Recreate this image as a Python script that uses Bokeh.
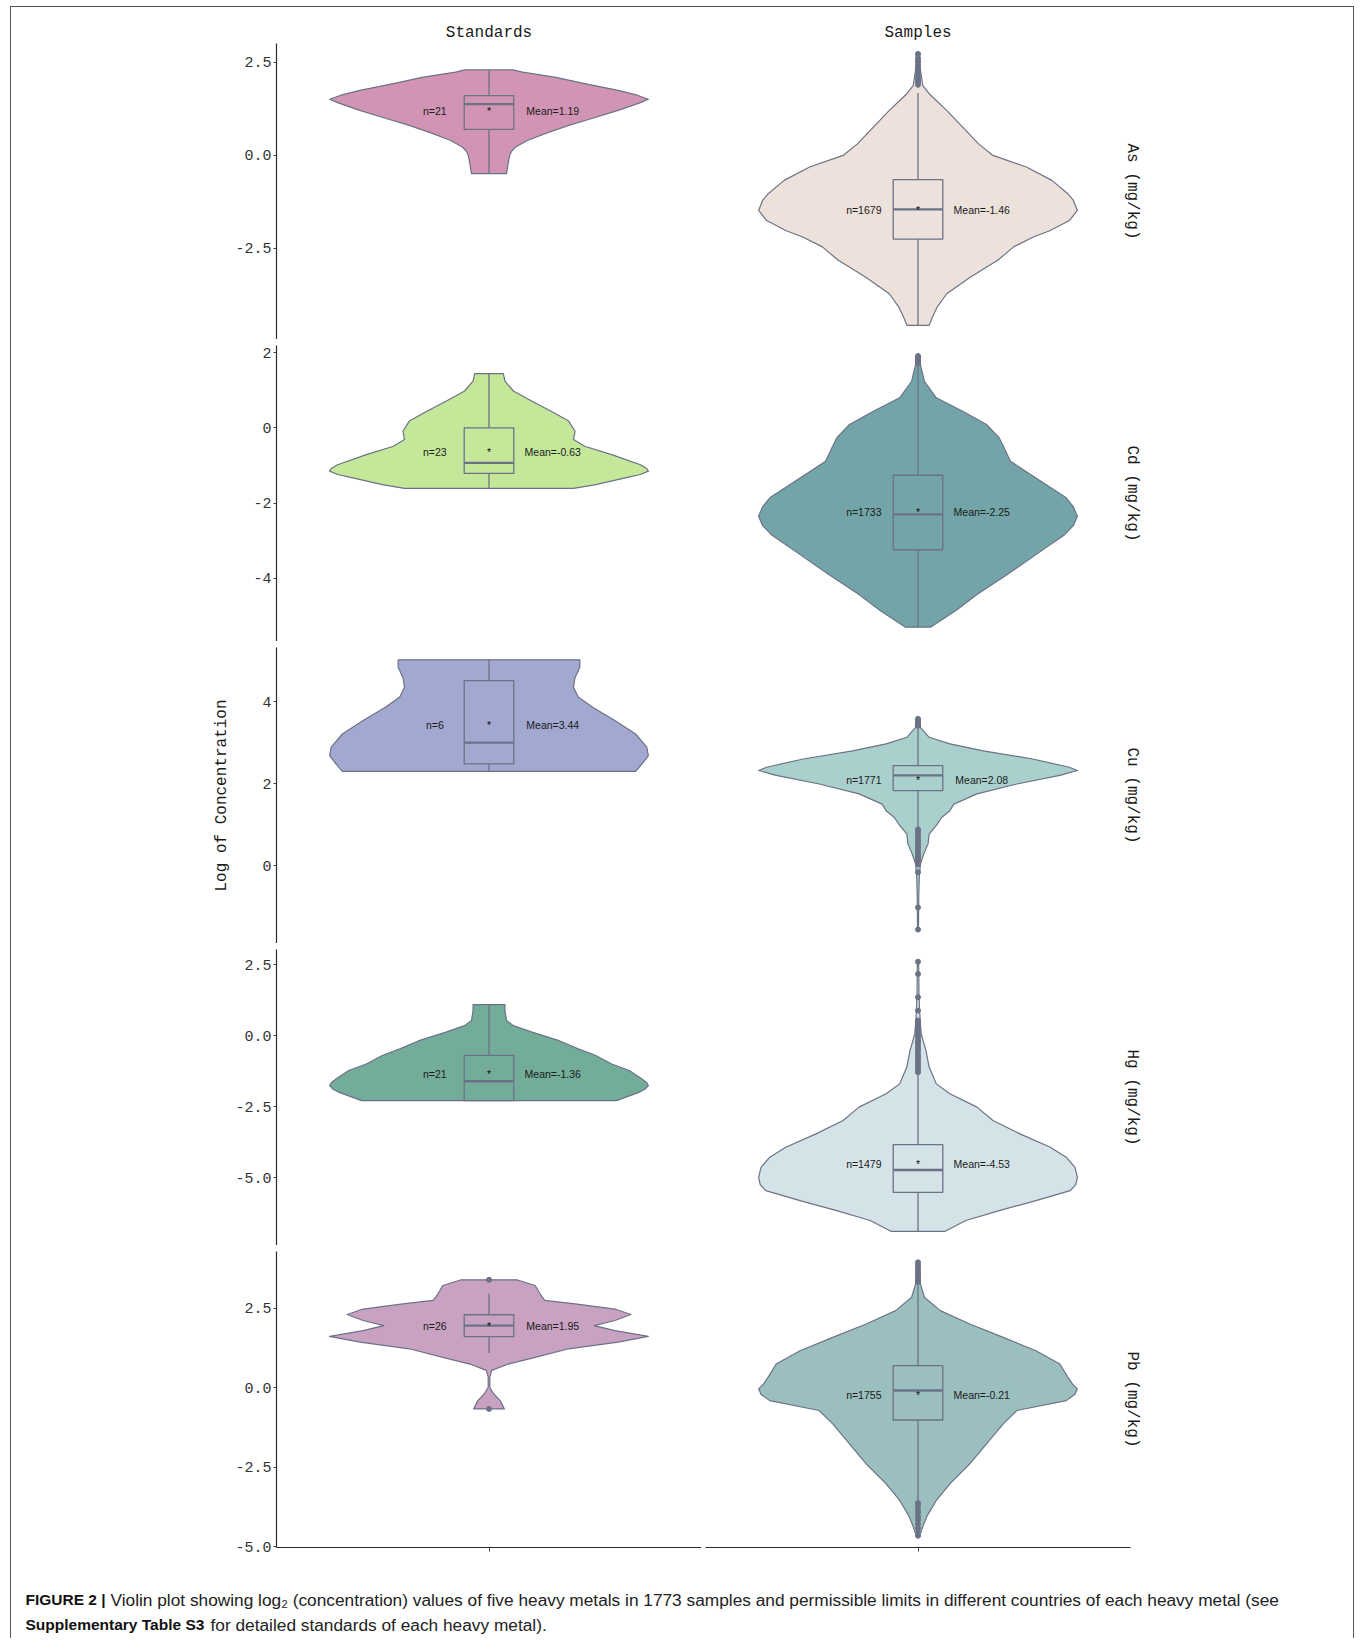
from bokeh.plotting import figure
from bokeh.layouts import row, column
from bokeh.models import Range1d, FixedTicker, LinearAxis
from bokeh.core.properties import value
from bokeh.embed import file_html
from bokeh.resources import INLINE

# ---------------- data ----------------
metals = ["As", "Cd", "Cu", "Hg", "Pb"]
groups = ["Standards", "Samples"]
strip_labels = ["As (mg/kg)", "Cd (mg/kg)", "Cu (mg/kg)", "Hg (mg/kg)", "Pb (mg/kg)"]

# violin outlines (log2 value, relative half-width 0..1)
std_as_y = [2.30, 2.24, 2.10, 1.93, 1.75, 1.62, 1.51, 1.42, 1.30, 1.21, 1.00, 0.81, 0.60, 0.40, 0.22, 0.10, 0.00, -0.22, -0.49]
std_as_w = [0.153, 0.21, 0.42, 0.60, 0.81, 0.93, 1.00, 0.95, 0.87, 0.81, 0.65, 0.50, 0.36, 0.24, 0.165, 0.14, 0.13, 0.12, 0.11]
smp_as_y = [2.73, 2.30, 1.88, 1.66, 1.21, 0.76, 0.31, 0.00, -0.31, -0.67, -1.03, -1.21, -1.48, -1.75, -2.02, -2.20, -2.46, -2.82, -3.27, -3.72, -4.08, -4.35, -4.57]
smp_as_w = [0.01, 0.015, 0.03, 0.07, 0.18, 0.28, 0.38, 0.47, 0.68, 0.84, 0.94, 0.975, 1.00, 0.95, 0.83, 0.72, 0.60, 0.50, 0.33, 0.18, 0.12, 0.09, 0.07]

std_cd_y = [1.44, 1.24, 0.98, 0.71, 0.44, 0.18, -0.09, -0.31, -0.49, -0.71, -0.98, -1.08, -1.15, -1.24, -1.33, -1.51, -1.61]
std_cd_w = [0.09, 0.10, 0.153, 0.27, 0.39, 0.50, 0.54, 0.53, 0.60, 0.77, 0.95, 0.99, 1.00, 0.95, 0.855, 0.67, 0.53]
smp_cd_y = [1.91, 1.68, 1.24, 0.80, 0.44, 0.09, -0.27, -0.53, -0.89, -1.33, -1.86, -2.10, -2.35, -2.60, -2.84, -3.37, -3.90, -4.43, -4.85, -5.10, -5.30]
smp_cd_w = [0.01, 0.015, 0.04, 0.115, 0.28, 0.43, 0.51, 0.54, 0.58, 0.74, 0.93, 0.975, 1.00, 0.975, 0.92, 0.74, 0.56, 0.37, 0.24, 0.15, 0.078]

std_cu_y = [5.02, 4.84, 4.59, 4.35, 4.11, 3.86, 3.54, 3.21, 2.89, 2.68, 2.48, 2.30]
std_cu_w = [0.57, 0.57, 0.54, 0.53, 0.56, 0.65, 0.79, 0.92, 0.99, 1.00, 0.96, 0.92]
smp_cu_y = [3.58, 3.37, 3.13, 2.97, 2.80, 2.60, 2.40, 2.32, 2.20, 1.99, 1.75, 1.50, 1.34, 1.18, 0.98, 0.77, 0.53, 0.28, 0.04, -0.28, -0.70, -1.10, -1.56]
smp_cu_w = [0.01, 0.015, 0.07, 0.20, 0.41, 0.72, 0.95, 1.00, 0.89, 0.62, 0.37, 0.225, 0.20, 0.15, 0.115, 0.07, 0.063, 0.036, 0.015, 0.008, 0.005, 0.004, 0.003]

std_hg_y = [1.09, 0.88, 0.53, 0.35, 0.12, -0.18, -0.47, -0.70, -1.00, -1.23, -1.53, -1.66, -1.76, -1.88, -2.00, -2.29]
std_hg_w = [0.10, 0.10, 0.11, 0.153, 0.27, 0.44, 0.56, 0.67, 0.77, 0.88, 0.96, 0.99, 1.00, 0.98, 0.94, 0.80]
smp_hg_y = [2.60, 1.50, 0.88, 0.42, 0.06, -0.53, -1.11, -1.70, -2.05, -2.52, -2.99, -3.46, -3.93, -4.28, -4.64, -4.99, -5.25, -5.46, -5.81, -6.16, -6.51, -6.89]
smp_hg_w = [0.004, 0.006, 0.01, 0.015, 0.02, 0.05, 0.07, 0.115, 0.20, 0.37, 0.47, 0.64, 0.83, 0.93, 0.985, 1.00, 0.99, 0.955, 0.74, 0.51, 0.30, 0.17]

std_pb_y = [3.40, 3.22, 2.96, 2.75, 2.64, 2.48, 2.31, 2.12, 1.96, 1.80, 1.62, 1.44, 1.23, 0.96, 0.75, 0.55, 0.34, 0.02, -0.19, -0.40, -0.66]
std_pb_w = [0.174, 0.29, 0.32, 0.35, 0.54, 0.79, 0.89, 0.79, 0.66, 0.79, 1.00, 0.81, 0.50, 0.29, 0.12, 0.017, 0.005, 0.005, 0.03, 0.07, 0.096]
smp_pb_y = [3.95, 3.27, 2.85, 2.43, 2.01, 1.59, 1.17, 0.75, 0.34, 0.12, -0.03, -0.20, -0.40, -0.71, -1.13, -1.76, -2.39, -3.02, -3.54, -4.00, -4.30, -4.65]
smp_pb_w = [0.008, 0.015, 0.04, 0.14, 0.325, 0.535, 0.74, 0.89, 0.94, 0.97, 1.00, 0.985, 0.93, 0.62, 0.535, 0.43, 0.325, 0.20, 0.115, 0.06, 0.035, 0.01]

# box statistics per metal (As, Cd, Cu, Hg, Pb)
std_n = [21, 23, 6, 21, 26]
std_mean = [1.19, -0.63, 3.44, -1.36, 1.95]
std_q1 = [0.70, -1.21, 2.48, -2.29, 1.61]
std_med = [1.38, -0.93, 3.00, -1.61, 1.96]
std_q3 = [1.61, 0.00, 4.51, -0.70, 2.30]
std_lo = [-0.49, -1.61, 2.30, -2.29, 1.10]
std_hi = [2.30, 1.44, 5.02, 1.09, 2.96]

smp_n = [1679, 1733, 1771, 1479, 1755]
smp_mean = [-1.46, -2.25, 2.08, -4.53, -0.21]
smp_q1 = [-2.25, -3.24, 1.83, -5.52, -1.01]
smp_med = [-1.45, -2.30, 2.20, -4.73, -0.08]
smp_q3 = [-0.65, -1.26, 2.44, -3.84, 0.70]
smp_lo = [-4.57, -5.30, 0.93, -6.89, -3.55]
smp_hi = [1.68, 1.68, 3.38, -1.30, 3.25]

# outliers
std_as_out = []
std_cd_out = []
std_cu_out = []
std_hg_out = []
std_pb_out = [3.40, -0.66]
smp_as_out = [1.90, 1.96, 2.02, 2.09, 2.15, 2.23, 2.31, 2.41, 2.52, 2.61, 2.73]
smp_cd_out = [1.72, 1.76, 1.81, 1.84, 1.88, 1.91]
smp_cu_out = [3.41, 3.45, 3.50, 3.53, 3.58, 0.88, 0.82, 0.74, 0.67, 0.60, 0.54, 0.47, 0.42, 0.35, 0.29, 0.23, 0.18, 0.12, 0.07, 0.03, -0.16, -1.02, -1.56]
smp_hg_out = [2.60, 2.17, 1.35, 0.88, 0.53, 0.44, 0.37, 0.31, 0.22, 0.15, 0.05, -0.04, -0.14, -0.22, -0.30, -0.41, -0.49, -0.57, -0.68, -0.76, -0.85, -0.95, -1.03, -1.11, -1.21, -1.29]
smp_pb_out = [3.33, 3.41, 3.50, 3.58, 3.68, 3.77, 3.86, 3.95, -3.62, -3.71, -3.83, -3.92, -4.04, -4.15, -4.28, -4.41, -4.55, -4.65]

# axis ranges and ticks per row
row_ylim = [(-4.95, 3.01), (-5.68, 2.19), (-1.90, 5.32), (-7.39, 3.03), (-5.02, 4.29)]
row_ticks = [[-2.5, 0, 2.5], [-4, -2, 0, 2], [0, 2, 4], [-5, -2.5, 0, 2.5], [-5, -2.5, 0, 2.5]]
row_tick_labels = [["-2.5", "0.0", "2.5"], ["-4", "-2", "0", "2"], ["0", "2", "4"],
                   ["-5.0", "-2.5", "0.0", "2.5"], ["-5.0", "-2.5", "0.0", "2.5"]]

std_colors = ["#D294B4", "#C4E79A", "#A3A8D0", "#73AD9A", "#C9A1C1"]
smp_colors = ["#EDE1DC", "#73A5A8", "#A9D0CD", "#D4E3E7", "#9BBFBF"]

# ---------------- assembly ----------------
violins = {
    (0, 0): (std_as_y, std_as_w, std_as_out), (0, 1): (smp_as_y, smp_as_w, smp_as_out),
    (1, 0): (std_cd_y, std_cd_w, std_cd_out), (1, 1): (smp_cd_y, smp_cd_w, smp_cd_out),
    (2, 0): (std_cu_y, std_cu_w, std_cu_out), (2, 1): (smp_cu_y, smp_cu_w, smp_cu_out),
    (3, 0): (std_hg_y, std_hg_w, std_hg_out), (3, 1): (smp_hg_y, smp_hg_w, smp_hg_out),
    (4, 0): (std_pb_y, std_pb_w, std_pb_out), (4, 1): (smp_pb_y, smp_pb_w, smp_pb_out),
}
stats = [
    (std_n, std_mean, std_q1, std_med, std_q3, std_lo, std_hi, std_colors),
    (smp_n, smp_mean, smp_q1, smp_med, smp_q3, smp_lo, smp_hi, smp_colors),
]

LINE = "#6C7286"
AXIS = "#2B2B2B"
MONO = "Liberation Mono"
SANS = "Liberation Sans"
HALF = 0.45
BOXH = 0.07


def make_panel(i, c):
    top = i == 0
    bottom = i == 4
    h = 332 if top else (315 if bottom else 302)
    bt = 36 if top else 6
    bb = 13 if bottom else 0
    if c == 0:
        w, bl, br = 690, 265, 0
    else:
        w, bl, br = 652, 4, 223
    kw = {}
    if top:
        kw["title"] = groups[c]
    p = figure(width=w, height=h, x_range=Range1d(-0.6, 0.6), y_range=Range1d(*row_ylim[i]),
               output_backend="svg", toolbar_location=None,
               min_border_left=bl, min_border_right=br, min_border_top=bt, min_border_bottom=bb,
               x_axis_location="below" if bottom else None,
               y_axis_location="left" if c == 0 else None, **kw)
    p.outline_line_color = None
    p.xgrid.grid_line_color = None
    p.ygrid.grid_line_color = None
    p.background_fill_color = "white"
    p.border_fill_color = "white"
    if top:
        p.title.align = "center"
        p.title.text_font = MONO
        p.title.text_font_size = "16px"
        p.title.text_font_style = "normal"
        p.title.text_color = "#1A1A1A"
        p.title.standoff = 4

    if c == 0:
        ax = p.yaxis[0]
        ax.ticker = FixedTicker(ticks=row_ticks[i], minor_ticks=[])
        ax.major_label_overrides = dict(zip(row_ticks[i], row_tick_labels[i]))
        ax.axis_line_color = AXIS
        ax.axis_line_width = 1.2
        ax.major_tick_line_color = "#444444"
        ax.major_tick_line_width = 1.1
        ax.major_tick_out = 3
        ax.major_tick_in = 0
        ax.minor_tick_line_color = None
        ax.major_label_standoff = 2
        ax.major_label_text_font = MONO
        ax.major_label_text_font_size = "15px"
        ax.major_label_text_color = "#333333"
        if i == 2:
            ax.axis_label = "Log of Concentration"
            ax.axis_label_text_font = MONO
            ax.axis_label_text_font_size = "16px"
            ax.axis_label_text_font_style = "normal"
            ax.axis_label_text_color = "#1A1A1A"
            ax.axis_label_standoff = 28
    else:
        rax = LinearAxis(ticker=FixedTicker(ticks=[], minor_ticks=[]),
                         axis_line_color=None, major_tick_line_color=None,
                         minor_tick_line_color=None, major_tick_out=0, major_tick_in=0,
                         major_label_text_font_size="1px",
                         axis_label=strip_labels[i], axis_label_text_font=MONO,
                         axis_label_text_font_size="16px", axis_label_text_font_style="normal",
                         axis_label_text_color="#1A1A1A", axis_label_standoff=-8)
        p.add_layout(rax, "right")

    if bottom:
        xa = p.xaxis[0]
        xa.ticker = FixedTicker(ticks=[0], minor_ticks=[])
        xa.axis_line_color = AXIS
        xa.axis_line_width = 1.2
        xa.major_tick_line_color = "#444444"
        xa.major_tick_out = 4
        xa.major_tick_in = 0
        xa.minor_tick_line_color = None
        xa.major_label_text_font_size = "1px"
        xa.major_label_text_alpha = 0

    vy, vw, outl = violins[(i, c)]
    n_l, mean_l, q1_l, med_l, q3_l, lo_l, hi_l, cols = stats[c]
    right_x = [wv * HALF for wv in vw]
    left_x = [-wv * HALF for wv in vw]
    xs = right_x + left_x[::-1]
    ys = list(vy) + list(vy)[::-1]
    p.patch(xs, ys, fill_color=cols[i], line_color=LINE, line_width=1.2, line_join="round")

    # whiskers
    p.segment(x0=[0, 0], y0=[q3_l[i], q1_l[i]], x1=[0, 0], y1=[hi_l[i], lo_l[i]],
              line_color=LINE, line_width=1.3)
    # box
    p.quad(left=[-BOXH], right=[BOXH], bottom=[q1_l[i]], top=[q3_l[i]],
           fill_color=None, line_color=LINE, line_width=1.3)
    p.segment(x0=[-BOXH], y0=[med_l[i]], x1=[BOXH], y1=[med_l[i]],
              line_color=LINE, line_width=2.4)
    # outliers
    if outl:
        p.scatter(x=[0] * len(outl), y=outl, size=5, color=LINE)
    # mean marker and labels
    p.text(x=[0], y=[mean_l[i]], text=["*"], text_font=value(SANS), text_font_size="10.5px",
           text_align="center", text_baseline="middle", text_color="#111111")
    p.text(x=[-0.153], y=[mean_l[i]], text=[f"n={n_l[i]}"], text_font=value(SANS),
           text_font_size="10.5px", text_align="center", text_baseline="middle", text_color="#1A1A1A")
    p.text(x=[0.18], y=[mean_l[i]], text=[f"Mean={mean_l[i]:.2f}"], text_font=value(SANS),
           text_font_size="10.5px", text_align="center", text_baseline="middle", text_color="#1A1A1A")
    return p


rows = []
for i in range(5):
    rows.append(row(make_panel(i, 0), make_panel(i, 1)))

# caption
CAP_H = 78
cap = figure(width=1342, height=CAP_H, x_range=Range1d(0, 1342), y_range=Range1d(CAP_H, 0),
             output_backend="svg", toolbar_location=None, min_border=0,
             x_axis_location=None, y_axis_location=None)
cap.outline_line_color = None
cap.xgrid.grid_line_color = None
cap.ygrid.grid_line_color = None
cap_bold = ["FIGURE 2 |", "Supplementary Table S3"]
cap_norm = ["Violin plot showing log\u2082 (concentration) values of five heavy metals in 1773 samples "
            "and permissible limits in different countries of each heavy metal (see",
            "for detailed standards of each heavy metal)."]
cap.text(x=[14, 14], y=[39, 64], text=cap_bold, text_font=value(SANS), text_font_size="15.5px",
         text_font_style="bold", text_align="left", text_baseline="alphabetic", text_color="#111111")
cap.text(x=[99, 199], y=[39, 64], text=cap_norm, text_font=value(SANS), text_font_size="17.3px",
         text_align="left", text_baseline="alphabetic", text_color="#222222")

layout = column(*rows, cap, styles={"margin-left": "10px", "margin-top": "6px",
                                    "border-top": "1px solid #555555",
                                    "border-left": "1px solid #555555",
                                    "border-right": "1px solid #555555"})

open("out.html", "w").write(file_html(layout, INLINE))
